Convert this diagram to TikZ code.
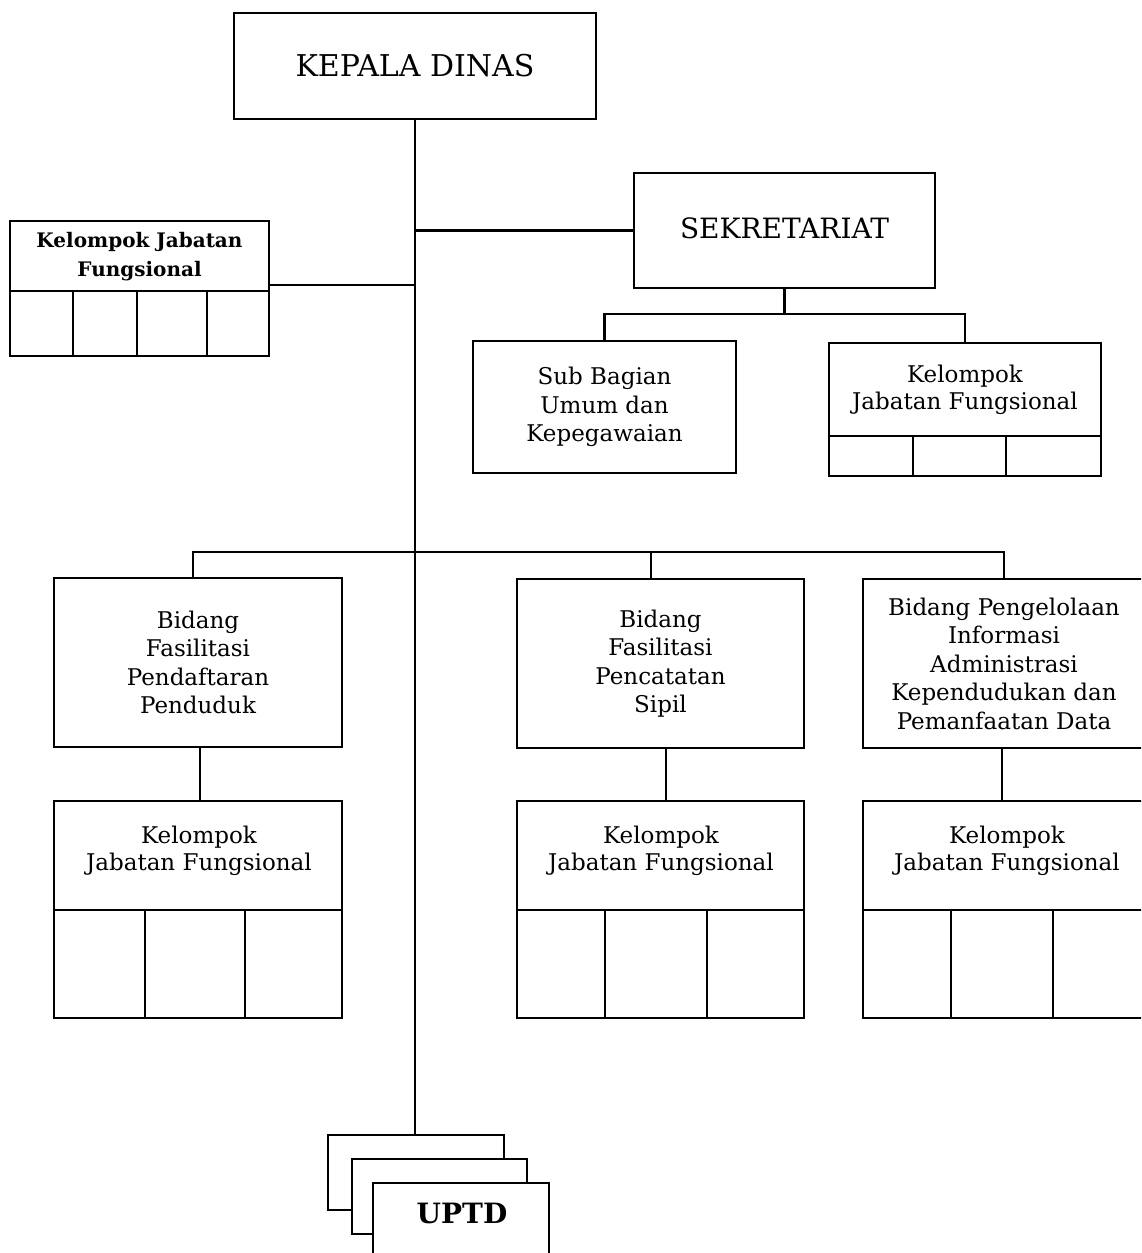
\documentclass[tikz,border=0pt]{standalone}
\usepackage{fontspec}
\setmainfont{DejaVu Serif}
\begin{document}
\begin{tikzpicture}[x=1pt,y=-1pt,
  box/.style={draw, line width=2.2pt, fill=white, inner sep=0pt, align=center,
    font=\fontsize{23}{28.5}\selectfont},
  txt/.style={inner sep=0pt, align=center, font=\fontsize{23}{27.5}\selectfont},
  conn/.style={line width=2.2pt},
  cell/.style={line width=2.2pt}]
\useasboundingbox (0,0) rectangle (1141,1253);
\clip (0,0) rectangle (1141,1253);

% top
\node[box, minimum width=362, minimum height=106, font=\fontsize{30}{34}\selectfont] (kd) at (415,66) {KEPALA DINAS};
\node[box, minimum width=301, minimum height=115, font=\fontsize{28}{34}\selectfont] (sek) at (784.5,230.5) {\raisebox{5pt}{SEKRETARIAT}};

% left functional group
\node[box, minimum width=259, minimum height=135] (kjl) at (139.5,288.5) {};
\node[txt, font=\bfseries\fontsize{20}{29}\selectfont] (kjltxt) at (139.5,257) {Kelompok Jabatan\\Fungsional};
\draw[cell] (kjl.west |- 0,291) -- (kjl.east |- 0,291);
\draw[cell] (73,291) -- (73,0 |- kjl.south);
\draw[cell] (137,291) -- (137,0 |- kjl.south);
\draw[cell] (207,291) -- (207,0 |- kjl.south);

% secretariat children
\node[box, minimum width=263, minimum height=132] (sub) at (604.5,407) {Sub Bagian\\Umum dan\\Kepegawaian};
\node[box, minimum width=272, minimum height=133] (kjr) at (965,409.5) {};
\node[txt] (kjrtxt) at (965,390) {Kelompok\\Jabatan Fungsional};
\draw[cell] (kjr.west |- 0,436) -- (kjr.east |- 0,436);
\draw[cell] (913,436) -- (913,0 |- kjr.south);
\draw[cell] (1006,436) -- (1006,0 |- kjr.south);

% bidang
\node[box, minimum width=288, minimum height=169] (b1) at (198,662.5) {Bidang\\Fasilitasi\\Pendaftaran\\Penduduk};
\node[box, minimum width=287, minimum height=169] (b2) at (660.5,663.5) {Bidang\\Fasilitasi\\Pencatatan\\Sipil};
\node[box, minimum width=282, minimum height=169] (b3) at (1004,663.5) {Bidang Pengelolaan\\Informasi\\Administrasi\\Kependudukan dan\\Pemanfaatan Data};

% kelompok under bidang
\node[box, minimum width=288, minimum height=217] (k1) at (198,909.5) {};
\node[txt] (k1txt) at (199,851) {Kelompok\\Jabatan Fungsional};
\draw[cell] (k1.west |- 0,910) -- (k1.east |- 0,910);
\draw[cell] (145,910) -- (145,0 |- k1.south);
\draw[cell] (245,910) -- (245,0 |- k1.south);

\node[box, minimum width=287, minimum height=217] (k2) at (660.5,909.5) {};
\node[txt] (k2txt) at (661,851) {Kelompok\\Jabatan Fungsional};
\draw[cell] (k2.west |- 0,910) -- (k2.east |- 0,910);
\draw[cell] (605,910) -- (605,0 |- k2.south);
\draw[cell] (707,910) -- (707,0 |- k2.south);

\node[box, minimum width=282, minimum height=217] (k3) at (1004,909.5) {};
\node[txt] (k3txt) at (1007,851) {Kelompok\\Jabatan Fungsional};
\draw[cell] (k3.west |- 0,910) -- (k3.east |- 0,910);
\draw[cell] (951,910) -- (951,0 |- k3.south);
\draw[cell] (1053,910) -- (1053,0 |- k3.south);

% UPTD stack
\node[box, minimum width=176, minimum height=75] (u1) at (416,1172.5) {};
\node[box, minimum width=175, minimum height=75] (u2) at (439.5,1196.5) {};
\node[box, minimum width=176, minimum height=107] (u3) at (461,1236.5) {};
\node[txt, font=\bfseries\fontsize{28}{34}\selectfont] (uptd) at (462,1213) {UPTD};

% connectors
\coordinate (kjlc) at (269,285);
\coordinate (sbus) at (786,314);
\coordinate (bbus) at (415,552);
\draw[conn] (kd.south) -- (kd.south |- u1.north);
\draw[conn] (sek.west) -- (sek.west -| kd.south);
\draw[conn] (kjlc) -- (kjlc -| kd.south);
\draw[conn] (sek.south) -- (sek.south |- sbus);
\draw[conn] (sub.north) |- (kjr.north |- sbus) -- (kjr.north);
\draw[conn] ([xshift=-5pt]b1.north) |- (b3.north |- bbus) -- (b3.north);
\draw[conn] ([xshift=-9.5pt]b2.north) -- ([xshift=-9.5pt]b2.north |- bbus);
\draw[conn] ([xshift=2pt]b1.south) -- ([xshift=2pt]k1.north);
\draw[conn] ([xshift=5.5pt]b2.south) -- ([xshift=5.5pt]k2.north);
\draw[conn] ([xshift=-2pt]b3.south) -- ([xshift=-2pt]k3.north);
\end{tikzpicture}
\end{document}
